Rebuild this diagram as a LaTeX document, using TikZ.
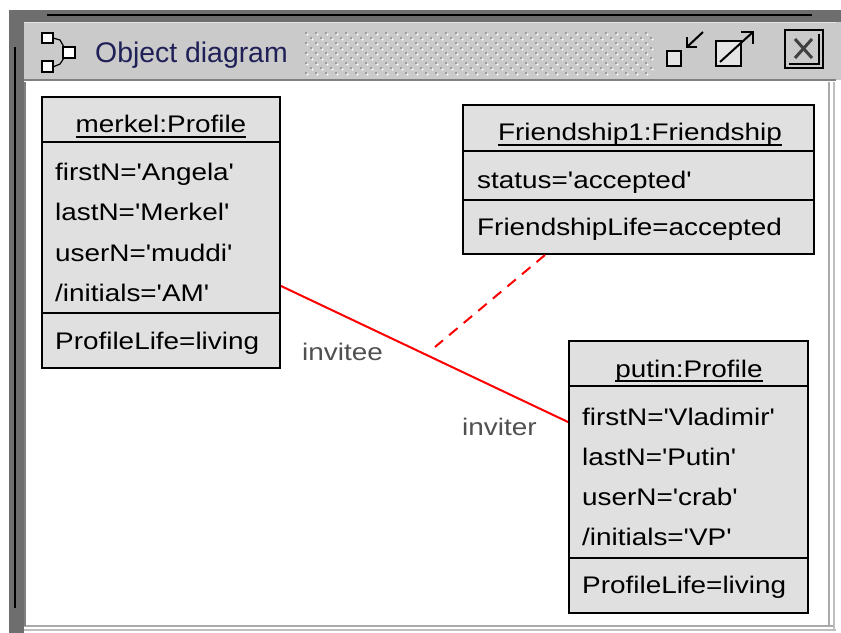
\documentclass[tikz,border=0pt]{standalone}
\usepackage{fontspec}
\setmainfont{Liberation Sans}
\newcommand{\sq}{\textquotesingle}
\definecolor{framedark}{RGB}{110,110,110}
\definecolor{titlebar}{RGB}{202,202,202}
\definecolor{boxfill}{RGB}{224,224,224}
\definecolor{navy}{RGB}{32,32,88}
\definecolor{lblgray}{RGB}{80,80,80}
\definecolor{dotdark}{RGB}{140,140,140}
\definecolor{edgegray}{RGB}{170,170,170}
\definecolor{linkred}{RGB}{255,0,0}
\begin{document}
\begin{tikzpicture}[x=1bp,y=-1bp,
  classbox/.style={draw=black, line width=2bp, fill=boxfill, inner sep=0pt},
  sepline/.style={black, line width=2bp},
  txt/.style={font=\fontsize{28}{30}\selectfont, inner sep=0pt, yscale=0.86, transform shape, text=black},
  attr/.style={txt, anchor=base west},
  head/.style={txt, anchor=base},
  uline/.style={black, line width=1.5bp},
  rolelbl/.style={txt, anchor=base west, text=lblgray},
  link/.style={linkred, line width=2bp},
  dashlink/.style={linkred, line width=2bp, dash pattern=on 11bp off 8bp},
  icon/.style={black, line width=2bp},
]
\useasboundingbox (0,0) rectangle (841,633);
\fill[white] (0,0) rectangle (841,633);
% ---- window frame ----
\fill[framedark] (9,10) rectangle (841,22);
\fill[framedark] (9,10) rectangle (24,633);
\draw[black, line width=2bp] (47,15) -- (812,15);
\draw[black, line width=2.5bp] (15,47) -- (15,608);
\fill[titlebar] (24,22) rectangle (841,80);
\draw[white!90!black, line width=1bp] (24,23) -- (836,23);
\draw[gray, line width=2.5bp] (24,80) -- (836,80);
\draw[edgegray, line width=1.5bp] (24,626) -- (833,626);
\draw[black!25, line width=1.5bp] (24,630) -- (836,630);
\draw[edgegray, line width=1.5bp] (829,82) -- (829,626);
\draw[black!25, line width=1.5bp] (834,82) -- (834,630);
\draw[gray, line width=2bp] (25,82) -- (25,626);
% dotted grip area
\foreach \r in {0,...,8}{
  \pgfmathsetmacro{\yy}{33+5*\r}
  \pgfmathsetmacro{\off}{mod(\r,2)*5}
  \foreach \c in {0,...,34}{
    \fill[dotdark] (306+\off+10*\c,\yy) circle (1.2bp);
    \fill[white] (307.5+\off+10*\c,\yy+1.5) circle (1.1bp);
  }
}
% left title icon
\draw[icon, fill=white] (42,33) rectangle (53,43);
\draw[icon, fill=white] (42,61) rectangle (53,72);
\draw[icon, fill=white] (63,47) rectangle (75,58);
\draw[black, line width=1.2bp] (53,38) -- (60,40) -- (64,47);
\draw[black, line width=1.2bp] (53,67) -- (60,64) -- (64,58);
% title text
\node[font=\fontsize{28.5}{30}\selectfont, text=navy, anchor=base west, inner sep=0pt] (title) at (95,63) {Object diagram};
% right title icons
\draw[icon, line width=2.5bp, fill=white!90!black] (667,51) rectangle (681,66);
\draw[icon] (703,32) -- (687,47);
\draw[icon] (687,37) -- (687,47) -- (697,47);
\draw[icon, line width=2.5bp, fill=white!90!black] (716,41) rectangle (741,66);
\draw[icon] (720,62) -- (753,32);
\draw[icon] (741,32) -- (753,32) -- (753,44);
\draw[black, line width=2bp] (785,30) rectangle (823,68);
\draw[black, line width=1.5bp] (819,34) -- (819,64) -- (789,64);
\draw[black!75, line width=3bp] (795,39) -- (812,58);
\draw[black!75, line width=3bp] (812,39) -- (795,58);
% ---- merkel:Profile ----
\node[classbox, minimum width=238bp, minimum height=271bp] (merkel) at (161,232.5) {};
\draw[sepline] (merkel.west |- 0,142) -- (merkel.east |- 0,142);
\draw[sepline] (merkel.west |- 0,313) -- (merkel.east |- 0,313);
\node[head] (mh) at (161,133) {merkel:Profile};
\draw[uline] ([yshift=-4bp]mh.base west) -- ([yshift=-4bp]mh.base east);
\node[attr] (m1) at (55,181) {firstN=\sq Angela\sq};
\node[attr] (m2) at (55,221) {lastN=\sq Merkel\sq};
\node[attr] (m3) at (55,261) {userN=\sq muddi\sq};
\node[attr] (m4) at (55,301) {/initials=\sq AM\sq};
\node[attr] (m5) at (55,349) {ProfileLife=living};
% ---- Friendship1:Friendship ----
\node[classbox, minimum width=351bp, minimum height=149bp] (friend) at (638.5,179.5) {};
\draw[sepline] (friend.west |- 0,151) -- (friend.east |- 0,151);
\draw[sepline] (friend.west |- 0,200) -- (friend.east |- 0,200);
\node[head] (fh) at (640,141) {Friendship1:Friendship};
\draw[uline] ([yshift=-4bp]fh.base west) -- ([yshift=-4bp]fh.base east);
\node[attr] (f1) at (477,189) {status=\sq accepted\sq};
\node[attr] (f2) at (477,236) {FriendshipLife=accepted};
% ---- putin:Profile ----
\node[classbox, minimum width=239bp, minimum height=272bp] (putin) at (688.5,477) {};
\draw[sepline] (putin.west |- 0,386) -- (putin.east |- 0,386);
\draw[sepline] (putin.west |- 0,558) -- (putin.east |- 0,558);
\node[head] (ph) at (689,377) {putin:Profile};
\draw[uline] ([yshift=-4bp]ph.base west) -- ([yshift=-4bp]ph.base east);
\node[attr] (p1) at (582,425) {firstN=\sq Vladimir\sq};
\node[attr] (p2) at (582,465) {lastN=\sq Putin\sq};
\node[attr] (p3) at (582,505) {userN=\sq crab\sq};
\node[attr] (p4) at (582,545) {/initials=\sq VP\sq};
\node[attr] (p5) at (582,593) {ProfileLife=living};
% ---- links ----
\draw[link] ([shift={(0,53.5)}]merkel.east) -- ([shift={(0,-55)}]putin.west);
\coordinate (linkmid) at (435,347);
\draw[dashlink] ([shift={(-93.5,0)}]friend.south) -- (linkmid);
\node[rolelbl] (invitee) at (302,360) {invitee};
\node[rolelbl] (inviter) at (462,435) {inviter};
\end{tikzpicture}
\end{document}
